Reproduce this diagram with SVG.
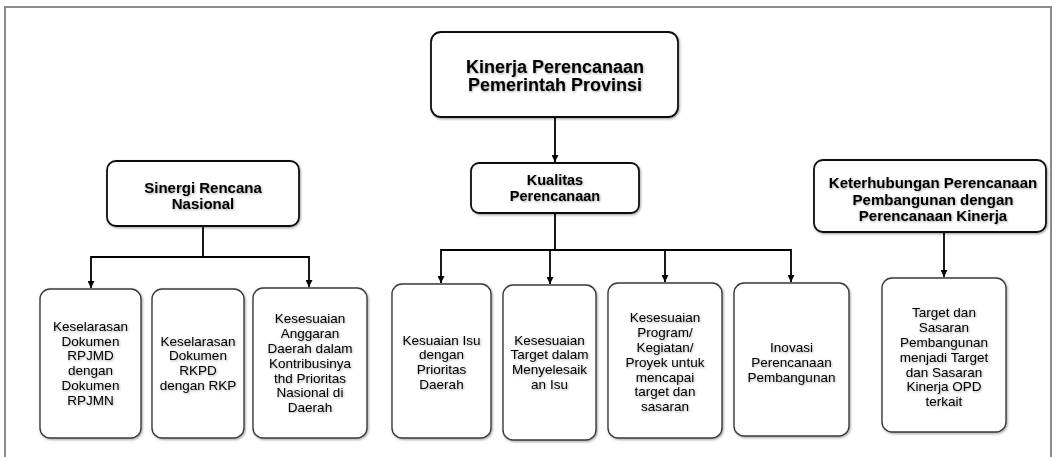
<svg xmlns="http://www.w3.org/2000/svg" width="1059" height="457" viewBox="0 0 1059 457">
  <defs>
    <filter id="boxShadow" x="-10%" y="-10%" width="120%" height="120%">
      <feDropShadow dx="1" dy="1.2" stdDeviation="1" flood-color="#000" flood-opacity="0.35"/>
    </filter>
    <filter id="textShadow" x="-10%" y="-20%" width="120%" height="140%">
      <feDropShadow dx="0.8" dy="1" stdDeviation="0.8" flood-color="#000" flood-opacity="0.35"/>
    </filter>
    <marker id="arrow" viewBox="0 0 8 8" refX="8" refY="4" markerWidth="7" markerHeight="7" markerUnits="userSpaceOnUse" orient="auto">
      <path d="M0,0 L8,4 L0,8 z" fill="#000"/>
    </marker>
    <style>
      .frame { fill: #fff; stroke: #8c8c8c; stroke-width: 2; }
      .head { fill: #fff; stroke: #111; stroke-width: 1.8; filter: url(#boxShadow); }
      .leaf { fill: #fff; stroke: #3a3a3a; stroke-width: 1.4; filter: url(#boxShadow); }
      .htxt { font-family: "Liberation Sans", Arial, sans-serif; font-weight: bold; fill: #000; text-anchor: middle; filter: url(#textShadow); }
      .ltxt { font-family: "Liberation Sans", Arial, sans-serif; font-size: 13.5px; fill: #000; text-anchor: middle; filter: url(#textShadow); }
      .conn { fill: none; stroke: #000; stroke-width: 1.8; }
    </style>
  </defs>

  <rect width="1059" height="457" fill="#fff"/>
  <rect class="frame" x="5" y="7" width="1046" height="470"/>

  <!-- connectors -->
  <g id="connectors">
    <path class="conn" d="M555 117 V162" marker-end="url(#arrow)"/>
    <path class="conn" d="M203 226 V257"/>
    <path class="conn" d="M203 257 H91 V288" marker-end="url(#arrow)"/>
    <path class="conn" d="M203 257 H309 V287" marker-end="url(#arrow)"/>
    <path class="conn" d="M555 213 V250"/>
    <path class="conn" d="M555 250 H441 V283" marker-end="url(#arrow)"/>
    <path class="conn" d="M550 250 V284" marker-end="url(#arrow)"/>
    <path class="conn" d="M555 250 H665 V282" marker-end="url(#arrow)"/>
    <path class="conn" d="M665 250 H791 V282" marker-end="url(#arrow)"/>
    <path class="conn" d="M944 229 V277" marker-end="url(#arrow)"/>
  </g>

  <!-- root -->
  <g id="kinerja-perencanaan">
    <rect class="head" x="431" y="32" width="247" height="85" rx="10"/>
    <text class="htxt" font-size="18" x="555" y="73">Kinerja Perencanaan<tspan x="555" dy="18">Pemerintah Provinsi</tspan></text>
  </g>

  <!-- second level -->
  <g id="sinergi-rencana">
    <rect class="head" x="107" y="161" width="192" height="65" rx="9"/>
    <text class="htxt" font-size="15" x="203" y="192.5">Sinergi Rencana<tspan x="203" dy="16">Nasional</tspan></text>
  </g>
  <g id="kualitas-perencanaan">
    <rect class="head" x="471" y="163" width="168" height="50" rx="8"/>
    <text class="htxt" font-size="14.5" x="555" y="185">Kualitas<tspan x="555" dy="16">Perencanaan</tspan></text>
  </g>
  <g id="keterhubungan">
    <rect class="head" x="814" y="160" width="232" height="72" rx="9"/>
    <text class="htxt" font-size="15" x="933" y="188">Keterhubungan Perencanaan<tspan x="933" dy="16.5">Pembangunan dengan</tspan><tspan x="933" dy="16.5">Perencanaan Kinerja</tspan></text>
  </g>

  <!-- third level: Sinergi Rencana Nasional -->
  <g id="keselarasan-rpjmd">
    <rect class="leaf" x="40" y="289" width="101" height="149" rx="10"/>
    <text class="ltxt" x="90.5" y="330.7">Keselarasan<tspan x="90.5" dy="14.8">Dokumen</tspan><tspan x="90.5" dy="14.8">RPJMD</tspan><tspan x="90.5" dy="14.8">dengan</tspan><tspan x="90.5" dy="14.8">Dokumen</tspan><tspan x="90.5" dy="14.8">RPJMN</tspan></text>
  </g>
  <g id="keselarasan-rkpd">
    <rect class="leaf" x="152" y="289" width="92" height="149" rx="10"/>
    <text class="ltxt" x="198" y="345.5">Keselarasan<tspan x="198" dy="14.8">Dokumen</tspan><tspan x="198" dy="14.8">RKPD</tspan><tspan x="198" dy="14.8">dengan RKP</tspan></text>
  </g>
  <g id="kesesuaian-anggaran">
    <rect class="leaf" x="253" y="288" width="114" height="150" rx="10"/>
    <text class="ltxt" x="310" y="323.3">Kesesuaian<tspan x="310" dy="14.8">Anggaran</tspan><tspan x="310" dy="14.8">Daerah dalam</tspan><tspan x="310" dy="14.8">Kontribusinya</tspan><tspan x="310" dy="14.8">thd Prioritas</tspan><tspan x="310" dy="14.8">Nasional di</tspan><tspan x="310" dy="14.8">Daerah</tspan></text>
  </g>

  <!-- third level: Kualitas Perencanaan -->
  <g id="kesuaian-isu">
    <rect class="leaf" x="392" y="284" width="99" height="154" rx="10"/>
    <text class="ltxt" x="441.5" y="344.5">Kesuaian Isu<tspan x="441.5" dy="14.8">dengan</tspan><tspan x="441.5" dy="14.8">Prioritas</tspan><tspan x="441.5" dy="14.8">Daerah</tspan></text>
  </g>
  <g id="kesesuaian-target">
    <rect class="leaf" x="503" y="285" width="93" height="155" rx="10"/>
    <text class="ltxt" x="549.5" y="344.5">Kesesuaian<tspan x="549.5" dy="14.8">Target dalam</tspan><tspan x="549.5" dy="14.8">Menyelesaik</tspan><tspan x="549.5" dy="14.8">an Isu</tspan></text>
  </g>
  <g id="kesesuaian-program">
    <rect class="leaf" x="608" y="283" width="114" height="155" rx="10"/>
    <text class="ltxt" x="665" y="322.3">Kesesuaian<tspan x="665" dy="14.8">Program/</tspan><tspan x="665" dy="14.8">Kegiatan/</tspan><tspan x="665" dy="14.8">Proyek untuk</tspan><tspan x="665" dy="14.8">mencapai</tspan><tspan x="665" dy="14.8">target dan</tspan><tspan x="665" dy="14.8">sasaran</tspan></text>
  </g>
  <g id="inovasi-perencanaan">
    <rect class="leaf" x="734" y="283" width="115" height="153" rx="10"/>
    <text class="ltxt" x="791.5" y="351.9">Inovasi<tspan x="791.5" dy="14.8">Perencanaan</tspan><tspan x="791.5" dy="14.8">Pembangunan</tspan></text>
  </g>

  <!-- third level: Keterhubungan -->
  <g id="target-sasaran">
    <rect class="leaf" x="882" y="278" width="124" height="154" rx="10"/>
    <text class="ltxt" x="944" y="317.3">Target dan<tspan x="944" dy="14.8">Sasaran</tspan><tspan x="944" dy="14.8">Pembangunan</tspan><tspan x="944" dy="14.8">menjadi Target</tspan><tspan x="944" dy="14.8">dan Sasaran</tspan><tspan x="944" dy="14.8">Kinerja OPD</tspan><tspan x="944" dy="14.8">terkait</tspan></text>
  </g>
</svg>
